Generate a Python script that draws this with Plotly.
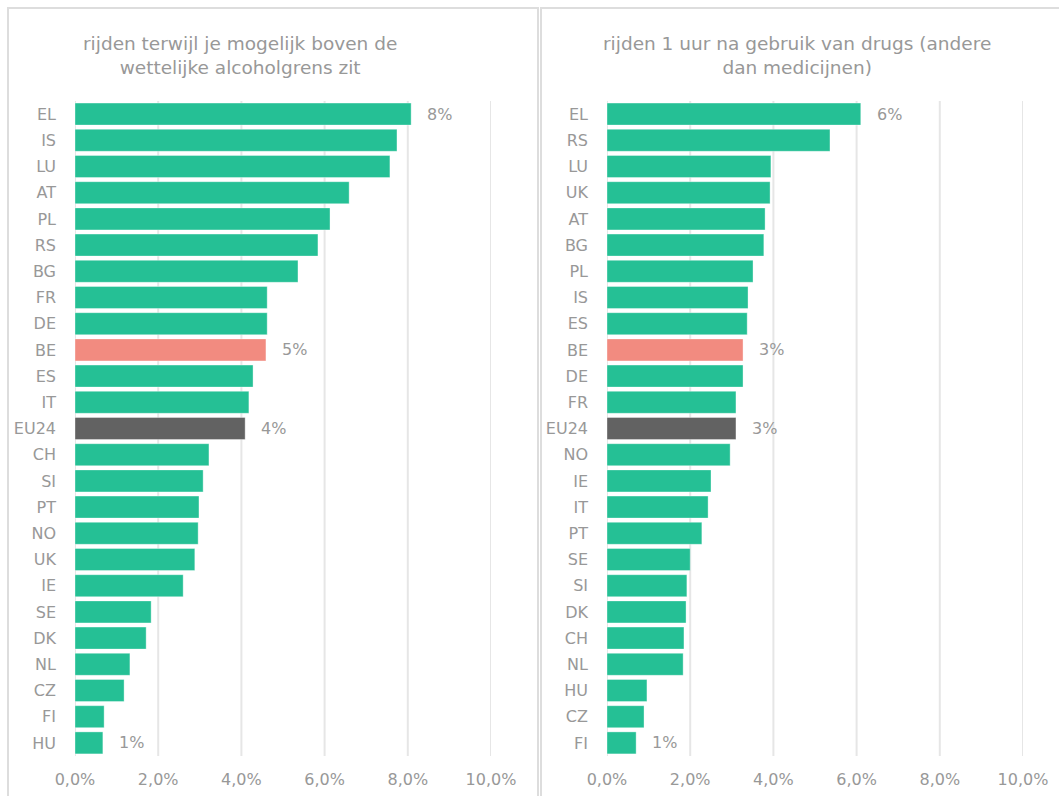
import plotly.graph_objects as go

# Share of drivers (%) per country
alc_countries = ["EL", "IS", "LU", "AT", "PL", "RS", "BG", "FR", "DE", "BE", "ES", "IT", "EU24",
                 "CH", "SI", "PT", "NO", "UK", "IE", "SE", "DK", "NL", "CZ", "FI", "HU"]
alc_values = [8.08, 7.74, 7.57, 6.59, 6.13, 5.84, 5.36, 4.62, 4.62, 4.59, 4.28, 4.18, 4.09,
              3.22, 3.08, 2.98, 2.96, 2.88, 2.60, 1.83, 1.71, 1.32, 1.18, 0.70, 0.67]

drug_countries = ["EL", "RS", "LU", "UK", "AT", "BG", "PL", "IS", "ES", "BE", "DE", "FR", "EU24",
                  "NO", "IE", "IT", "PT", "SE", "SI", "DK", "CH", "NL", "HU", "CZ", "FI"]
drug_values = [6.10, 5.36, 3.94, 3.92, 3.80, 3.77, 3.51, 3.39, 3.37, 3.27, 3.27, 3.10, 3.10,
               2.96, 2.50, 2.43, 2.28, 2.00, 1.92, 1.90, 1.85, 1.83, 0.96, 0.89, 0.70]

titles = ["rijden terwijl je mogelijk boven de<br>wettelijke alcoholgrens zit",
          "rijden 1 uur na gebruik van drugs (andere<br>dan medicijnen)"]

x_ticks = [0, 0.02, 0.04, 0.06, 0.08, 0.1]

GREEN = "#25C095"
SALMON = "#F28B80"
DARK = "#626262"
GRAY_TXT = "#989898"
GRID = "#E6E6E6"
FONT = "DejaVu Sans"


def bar_colors(cats):
    return [SALMON if c == "BE" else DARK if c == "EU24" else GREEN for c in cats]


def labelled(cats):
    # value labels: first, last, BE and EU24
    return {0, len(cats) - 1, cats.index("BE"), cats.index("EU24")}


fig = go.Figure()
panels = [(alc_countries, alc_values, "x", "y"), (drug_countries, drug_values, "x2", "y2")]
for cats, vals, xa, ya in panels:
    # vertical gridlines, drawn beneath the bars
    for t in x_ticks:
        fig.add_shape(type="line", xref=xa, yref=f"{ya} domain", x0=t, x1=t, y0=0, y1=1,
                      line=dict(color=GRID, width=2), layer="below")
    fig.add_trace(go.Bar(
        x=[v / 100 for v in vals], y=cats, orientation="h",
        marker=dict(color=bar_colors(cats), line=dict(color="rgba(255,255,255,0.35)", width=1)),
        xaxis=xa, yaxis=ya, showlegend=False, hoverinfo="x+y",
    ))
    for i in labelled(cats):
        fig.add_annotation(
            x=vals[i] / 100, y=cats[i], xref=xa, yref=ya, text=f"{round(vals[i]):d}%",
            showarrow=False, xanchor="left", xshift=14,
            font=dict(family=FONT, size=16, color=GRAY_TXT),
        )

ydom = [1 - 756 / 796, 1 - 101 / 796]
xaxis_common = dict(range=[0, 0.1], tickvals=x_ticks, tickformat=".1%",
                    showgrid=False, zeroline=False,
                    showline=False, ticks="", ticklabelstandoff=12, automargin=False,
                    tickfont=dict(family=FONT, size=16, color=GRAY_TXT), fixedrange=True)
yaxis_common = dict(autorange="reversed", showgrid=False, zeroline=False, showline=False,
                    ticks="", ticklabelstandoff=18, automargin=False,
                    tickfont=dict(family=FONT, size=16, color=GRAY_TXT), domain=ydom)

fig.update_layout(
    width=1059, height=796,
    margin=dict(l=0, r=0, t=0, b=0),
    paper_bgcolor="white", plot_bgcolor="white",
    separators=",.",
    bargap=0.16,
    xaxis=dict(domain=[75 / 1059, 491 / 1059], anchor="y", **xaxis_common),
    yaxis=dict(anchor="x", **yaxis_common),
    xaxis2=dict(domain=[607 / 1059, 1023 / 1059], anchor="y2", **xaxis_common),
    yaxis2=dict(anchor="x2", **yaxis_common),
)

# panel frames
fig.add_shape(type="rect", xref="paper", yref="paper", x0=8 / 1059, x1=538 / 1059,
              y0=-0.02, y1=1 - 8 / 796, line=dict(color="#DDDDDD", width=2))
fig.add_shape(type="rect", xref="paper", yref="paper", x0=541 / 1059, x1=1.02,
              y0=-0.02, y1=1 - 8 / 796, line=dict(color="#DDDDDD", width=2))

# panel titles
for cx, t in [(240, titles[0]), (797, titles[1])]:
    fig.add_annotation(x=cx / 1059, y=1 - 56 / 796, xref="paper", yref="paper", text=t,
                       showarrow=False, xanchor="center", yanchor="middle", align="center",
                       font=dict(family=FONT, size=18.5, color=GRAY_TXT))

fig.write_html("out.html")
